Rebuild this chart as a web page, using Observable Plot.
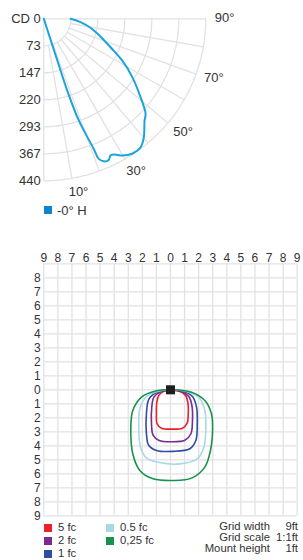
<!DOCTYPE html>
<html><head><meta charset="utf-8">
<script src="https://cdn.jsdelivr.net/npm/d3@7"></script>
<script src="https://cdn.jsdelivr.net/npm/@observablehq/plot@0.6"></script>
<style>
body{margin:0;background:#fff;font-family:"Liberation Sans",Arial,Helvetica,sans-serif;color:#333;}
#wrap{position:relative;width:303px;height:560px;overflow:hidden;}
.abs{position:absolute;}
.sw{display:inline-block;width:8px;height:8px;position:absolute;}
.lt{position:absolute;white-space:nowrap;line-height:1;}
table.info{position:absolute;border-collapse:collapse;font-size:11.3px;right:5px;top:521px;}
table.info td{padding:0;text-align:right;line-height:10.8px;white-space:nowrap;}
table.info td.v{padding-left:6px;}
</style></head>
<body><div id="wrap">
<div id="p1" class="abs" style="left:0;top:0"></div>
<div id="leg1" class="abs" style="left:0;top:0;width:303px;height:230px;pointer-events:none"></div>
<div id="p2" class="abs" style="left:0;top:240px"></div>
<div id="leg2" class="abs" style="left:0;top:0;width:303px;height:560px"></div>
</div>
<script>
// ---------- Polar candela data ----------
const polarAngles  = [0, 18, 18.1, 19, 21.0, 21.4, 22.8, 24.7, 26.0, 27.3, 29.8, 33.2, 37.0, 40.2, 44.7, 47.0, 51.0, 56.6, 62.0, 66.9, 72.7, 79.1, 84.7, 90];
const polarCandela = [0, 119, 205, 292, 378, 408, 420, 422, 413, 415, 428, 438, 437, 421, 389, 378, 338, 288, 241, 197, 161, 129, 100, 73];
const polarSeriesName = "-0° H";
const ringValues = [0, 73.33, 146.67, 220, 293.33, 366.67, 440];
const ringLabels = ["CD 0", "73", "147", "220", "293", "367", "440"];
const spokeAngles = [0, 10, 20, 30, 40, 50, 60, 70, 80, 90];
const angleLabelValues = [10, 30, 50, 70, 90];

// ---------- Isolux grid data (ft, y positive = down from luminaire) ----------
const gridTicks = [-9,-8,-7,-6,-5,-4,-3,-2,-1,0,1,2,3,4,5,6,7,8,9];
const leftTicks = [-9,-8,-7,-6,-5,-4,-3,-2,-1,0,1,2,3,4,5,6,7,8];
const fcLevels = ["5 fc", "2 fc", "1 fc", "0.5 fc", "0,25 fc"];
const fcColors = ["#ec2027", "#7b2a8e", "#2f4ea2", "#a8d9e8", "#17924a"];
const contour5fc = [[0,0.05],[0.66,0.12],[1.07,0.40],[1.23,0.88],[1.26,1.71],[1.18,2.38],[0.85,2.74],[0.12,2.81],[-0.64,2.74],[-0.95,2.43],[-1.0,1.71],[-0.97,0.88],[-0.83,0.40],[-0.52,0.12]];
const contour2fc = [[0,0.02],[0.78,0.12],[1.30,0.48],[1.52,1.12],[1.56,2.19],[1.45,3.14],[1.02,3.60],[0.07,3.71],[-0.81,3.62],[-1.23,3.26],[-1.35,2.43],[-1.33,1.24],[-1.18,0.52],[-0.71,0.14]];
const contour1fc = [[0,0],[0.90,0.10],[1.56,0.48],[1.85,1.24],[1.90,2.43],[1.80,3.62],[1.37,4.21],[0.19,4.40],[-1.0,4.33],[-1.54,3.98],[-1.71,3.14],[-1.71,1.71],[-1.52,0.64],[-0.88,0.14]];
const contour05fc = [[0,0],[1.14,0.12],[2.04,0.57],[2.44,1.48],[2.51,2.67],[2.37,4.10],[1.90,4.93],[0.66,5.29],[-0.52,5.24],[-1.71,4.86],[-2.13,4.10],[-2.25,2.67],[-2.18,1.36],[-1.71,0.48],[-0.88,0.10]];
const contour025fc = [[0,0],[1.49,0.17],[2.44,0.76],[2.91,1.71],[2.99,2.79],[2.84,4.33],[2.44,5.52],[1.49,6.31],[0.19,6.48],[-1.23,6.36],[-2.18,5.76],[-2.68,4.57],[-2.82,2.79],[-2.68,1.48],[-2.06,0.52],[-1.11,0.10]];
const luminaire = [[0,0]];
const infoLabels = ["Grid width", "Grid scale", "Mount height"];
const infoValues = ["9ft", "1:1ft", "1ft"];

const FONT = '"Liberation Sans", Arial, Helvetica, sans-serif';
const rad = a => a * Math.PI / 180;

// ---------- Polar chart ----------
const polarData = polarAngles.map((a, i) => ({a, cd: polarCandela[i]}));
const arcData = [];
ringValues.slice(1).forEach(r => { for (let a = 0; a <= 90; a += 1) arcData.push({r, a}); });
const innerR = ringValues[1], outerR = ringValues[ringValues.length - 1];
const labelMap = new Map(ringValues.map((v, i) => [v, ringLabels[i]]));

const p1 = Plot.plot({
  width: 303, height: 200,
  marginLeft: 43.3, marginRight: 97.7, marginTop: 18.3, marginBottom: 19.7,
  style: {fontFamily: FONT, fontSize: "13px", color: "#333", background: "transparent", overflow: "visible"},
  x: {domain: [0, 440], range: [43.3, 205.3], axis: null},
  y: {domain: [0, 440], range: [18.3, 180.3], axis: null},
  marks: [
    Plot.line(arcData, {x: d => d.r * Math.sin(rad(d.a)), y: d => d.r * Math.cos(rad(d.a)), z: "r", stroke: "#e2e2e2", strokeWidth: 1.3}),
    Plot.link(spokeAngles, {
      x1: a => (a % 90 === 0 ? 0 : innerR) * Math.sin(rad(a)),
      y1: a => (a % 90 === 0 ? 0 : innerR) * Math.cos(rad(a)),
      x2: a => outerR * Math.sin(rad(a)),
      y2: a => outerR * Math.cos(rad(a)),
      stroke: "#e2e2e2", strokeWidth: 1.3
    }),
    Plot.line(polarData, {x: d => d.cd * Math.sin(rad(d.a)), y: d => d.cd * Math.cos(rad(d.a)), stroke: "#1ca3da", strokeWidth: 2, curve: "catmull-rom"}),
    Plot.axisY(ringValues, {anchor: "left", label: null, tickSize: 0, tickPadding: 3, tickFormat: d => labelMap.get(d), fill: "#333", fontSize: 13}),
    Plot.text(angleLabelValues, {x: a => 480 * Math.sin(rad(a)), y: a => 480 * Math.cos(rad(a)), text: a => a + "°", dx: 4, dy: -1, fill: "#333", fontSize: 13})
  ]
});
document.getElementById("p1").appendChild(p1);

// legend 1
const leg1 = document.getElementById("leg1");
leg1.innerHTML = `<span class="sw" style="left:44px;top:206px;background:#0a84d0"></span><span class="lt" style="left:57px;top:203.5px;font-size:13px">${polarSeriesName}</span>`;

// ---------- Isolux grid ----------
const contours = [contour5fc, contour2fc, contour1fc, contour05fc, contour025fc];
const contourRows = [];
contours.forEach((c, k) => c.forEach(([gx, gy]) => contourRows.push({level: fcLevels[k], x: gx, y: -gy})));

const p2 = Plot.plot({
  width: 303, height: 280,
  marginLeft: 43.3, marginRight: 6.3, marginTop: 23.3, marginBottom: 4.7,
  style: {fontFamily: FONT, fontSize: "12px", color: "#333", background: "transparent", overflow: "visible"},
  x: {domain: [-9, 9], axis: null},
  y: {domain: [-9, 9], axis: null},
  color: {domain: fcLevels, range: fcColors},
  marks: [
    Plot.gridX(gridTicks, {stroke: "#e2e2e2", strokeOpacity: 1, strokeWidth: 1.3}),
    Plot.gridY(gridTicks, {stroke: "#e2e2e2", strokeOpacity: 1, strokeWidth: 1.3}),
    Plot.axisX(gridTicks, {anchor: "top", label: null, tickSize: 0, tickPadding: 2, tickFormat: d => Math.abs(d), fill: "#333", fontSize: 12}),
    Plot.axisY(leftTicks, {anchor: "left", label: null, tickSize: 0, tickPadding: 3, tickFormat: d => Math.abs(d), fill: "#333", fontSize: 12}),
    Plot.line(contourRows, {x: "x", y: "y", z: "level", stroke: "level", strokeWidth: 1.6, curve: "catmull-rom-closed"}),
    Plot.dot(luminaire, {x: d => d[0], y: d => d[1], symbol: "square", r: 5.1, fill: "#1e1e1e", stroke: "none"})
  ]
});
document.getElementById("p2").appendChild(p2);

// legend 2
const leg2 = document.getElementById("leg2");
const legPos = [[44, 528], [44, 540.5], [44, 553.8], [106, 528], [106, 540.5]];
let html = "";
fcLevels.forEach((lv, i) => {
  const [lx, ly] = legPos[i];
  html += `<span class="sw" style="left:${lx}px;top:${ly - 4}px;background:${fcColors[i]}"></span>`;
  html += `<span class="lt" style="left:${lx + 14}px;top:${ly - 6}px;font-size:11.3px">${lv}</span>`;
});
html += `<table class="info">` + infoLabels.map((l, i) => `<tr><td>${l}</td><td class="v">${infoValues[i]}</td></tr>`).join("") + `</table>`;
leg2.innerHTML = html;
</script>
</body></html>
